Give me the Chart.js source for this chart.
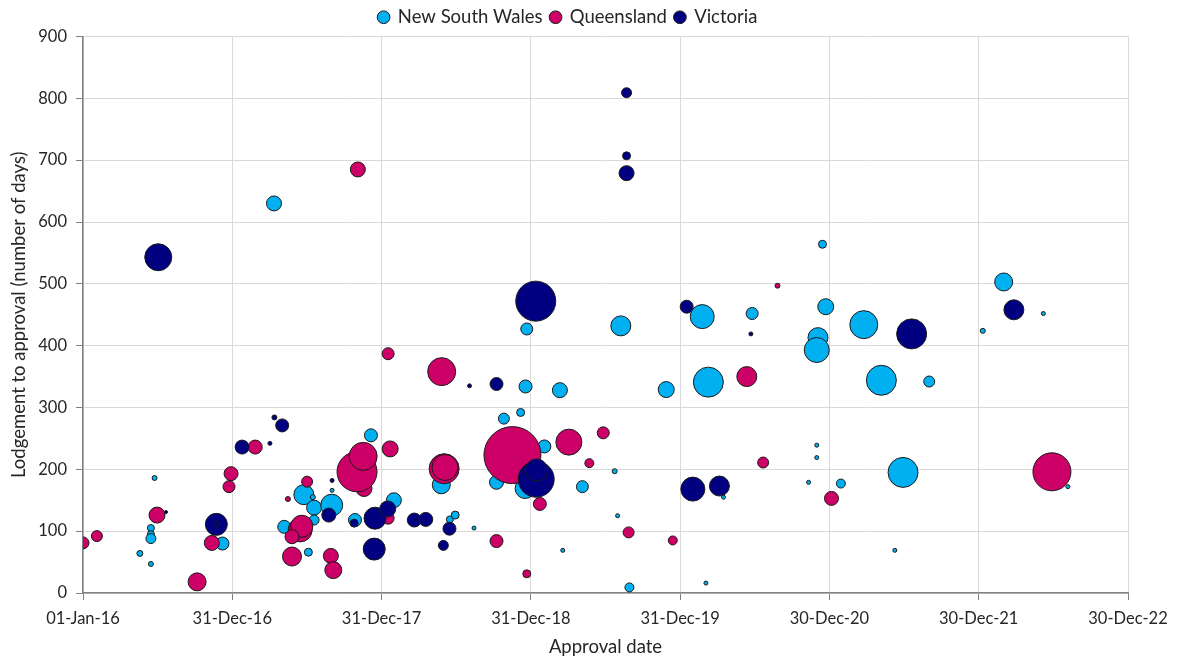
<!DOCTYPE html>
<html>
<head>
<meta charset="utf-8">
<title>Lodgement to approval by state</title>
<script src="https://cdn.jsdelivr.net/npm/chart.js@4.4.1/dist/chart.umd.min.js"></script>
<style>
  html, body { margin: 0; padding: 0; background: #ffffff; }
  #wrap { width: 1181px; height: 661px; }
</style>
</head>
<body>
<div id="wrap"><canvas id="my-chart" width="1181" height="661"></canvas></div>
<script>
'use strict';

// ************* Data (approval dates are Excel serial numbers) **************
let xTicks = [42370, 42735, 43100, 43465, 43830, 44195, 44560, 44925];
let yTicks = [0, 100, 200, 300, 400, 500, 600, 700, 800, 900];

let nswDate = [42837, 42545, 42536, 42536, 42536, 42509, 42536, 42711, 42910, 42932,
  42935, 42978, 42979, 42935, 42862, 42921, 43035, 43074, 43130, 43246,
  43267, 43280, 43326, 43381, 43399, 43440, 43452, 43455, 43536, 43451,
  43498, 43591, 43543, 43670, 43677, 43706, 43685, 43796, 43884, 43899,
  43893, 43936, 44006, 44144, 44164, 44164, 44178, 44186, 44167, 44164,
  44223, 44279, 44322, 44439, 44375, 44355, 44570, 44621, 44718, 44778];
let nswDays = [630, 186, 105, 95, 88, 64, 47, 80, 159, 155,
  138, 142, 166, 118, 107, 66, 118, 255, 150, 175,
  119, 126, 105, 179, 282, 292, 334, 427, 328, 169,
  237, 172, 69, 197, 125, 9, 432, 329, 447, 341,
  16, 155, 452, 179, 239, 219, 564, 463, 413, 393,
  177, 434, 344, 342, 195, 69, 424, 503, 452, 172];
let nswSize = [7.5, 2.5, 3.5, 3.5, 5, 3, 2.5, 6.5, 10, 2.5,
  7.5, 11, 2, 5, 6.5, 4, 6.5, 6.5, 7.5, 9,
  3.5, 4, 2, 7, 5.5, 4, 6.5, 6, 7.5, 10,
  6.5, 6, 2, 2.5, 2, 4.5, 10, 8, 12, 15,
  2, 2, 6, 2, 2, 2, 4, 8, 10, 12.5,
  4.5, 14, 15, 5.5, 15, 2, 2.5, 9, 2, 2];

let qldDate = [42370, 42404, 42551, 42649, 42685, 42732, 42727, 42791, 42871, 42918,
  42901, 42905, 42881, 42881, 42976, 42982, 43042, 43057, 43040, 43055,
  43121, 43116, 43116, 43247, 43253, 43255, 43381, 43420, 43455, 43487,
  43558, 43608, 43642, 43704, 43812, 43993, 44033, 44068, 44200, 44739];
let qldDays = [81, 92, 126, 18, 81, 193, 172, 236, 152, 180,
  102, 108, 91, 59, 60, 37, 685, 169, 196, 221,
  233, 121, 387, 358, 201, 203, 84, 223, 31, 144,
  244, 210, 259, 98, 85, 350, 211, 497, 153, 196];
let qldSize = [6, 5.5, 8, 9, 7.5, 7, 6, 7, 2.5, 5.5,
  12, 11, 7, 9.5, 7.5, 8.5, 7.5, 8, 20, 14,
  8, 6, 6, 14, 15, 13, 6.5, 28.5, 4, 6.5,
  13, 4.5, 6, 5.5, 4.5, 10, 5.5, 2.5, 7, 19];

let vicDate = [42554, 42573, 42696, 42696, 42759, 42827, 42838, 42857, 42971, 42979,
  43033, 43084, 43082, 43115, 43180, 43208, 43266, 43251, 43315, 43381,
  43477, 43478, 43479, 43699, 43699, 43699, 43846, 43861, 43926, 44003,
  44396, 44646];
let vicDays = [543, 131, 111, 111, 236, 242, 284, 271, 126, 182,
  113, 121, 71, 136, 118, 119, 104, 77, 335, 338,
  472, 184, 199, 809, 707, 679, 463, 168, 173, 419,
  419, 458];
let vicSize = [13.5, 1.5, 11, 3, 7, 2, 2.5, 6.5, 7, 2,
  4, 11, 11, 8, 7, 7, 6.5, 5, 2, 6.5,
  20, 18, 11, 5, 4, 7.5, 6.5, 12, 10, 2,
  15, 10];


// ************** Helper Functions *************
const MONTHS = ['Jan', 'Feb', 'Mar', 'Apr', 'May', 'Jun', 'Jul', 'Aug', 'Sep', 'Oct', 'Nov', 'Dec'];

function serialToLabel(serial){
  let d = new Date(Date.UTC(1899, 11, 30) + serial * 86400000);
  let dd = String(d.getUTCDate()).padStart(2, '0');
  return `${dd}-${MONTHS[d.getUTCMonth()]}-${String(d.getUTCFullYear()).slice(2)}`;
}

function makePoints(dates, days, sizes){
  let points = [];
  for(let i = 0; i < dates.length; i++){
    points.push({ x: dates[i], y: days[i], r: sizes[i] });
  }
  return points;
}

// order: Victoria painted last so it sits on top, like the spreadsheet
function makeSeries(label, points, colour, order){
  return {
    label: label,
    data: points,
    backgroundColor: colour,
    borderColor: '#1a1a1a',
    borderWidth: 1,
    hoverRadius: 0,
    order: order
  };
}


// ***************** Chart *********************
let canvasElem = document.getElementById('my-chart');
let fontFamily = 'Lato, "Open Sans", sans-serif';
let tickFont = { family: fontFamily, size: 16.5 };
let titleFont = { family: fontFamily, size: 18.5 };
let textColour = '#262626';
let gridColour = '#d9d9d9';
let axisColour = '#808080';

new Chart(canvasElem, {
  type: 'bubble',
  data: {
    datasets: [
      makeSeries('New South Wales', makePoints(nswDate, nswDays, nswSize), '#00b0f0', 3),
      makeSeries('Queensland', makePoints(qldDate, qldDays, qldSize), '#cc0066', 2),
      makeSeries('Victoria', makePoints(vicDate, vicDays, vicSize), '#000080', 1)
    ]
  },
  options: {
    responsive: false,
    animation: false,
    devicePixelRatio: 1,
    layout: { padding: { top: 0, right: 53, left: 8, bottom: 0 } },
    plugins: {
      legend: {
        position: 'top',
        labels: {
          usePointStyle: true,
          pointStyle: 'circle',
          boxWidth: 10,
          boxHeight: 9,
          padding: 8,
          color: textColour,
          font: titleFont,
          sort: (a, b) => a.datasetIndex - b.datasetIndex
        }
      },
      tooltip: { enabled: false }
    },
    scales: {
      x: {
        type: 'linear',
        min: xTicks[0],
        max: xTicks[xTicks.length - 1],
        afterBuildTicks: axis => {
          axis.ticks = xTicks.map(v => ({ value: v }));
        },
        afterFit: axis => {
          axis.height = 68;
        },
        ticks: {
          callback: value => serialToLabel(value),
          autoSkip: false,
          maxRotation: 0,
          color: textColour,
          font: tickFont,
          padding: 9
        },
        grid: { color: gridColour, tickColor: axisColour, tickLength: 7 },
        border: { color: axisColour, width: 1.5 },
        title: {
          display: true,
          text: 'Approval date',
          color: textColour,
          font: titleFont,
          padding: { top: 4, bottom: 3 }
        }
      },
      y: {
        min: yTicks[0],
        max: yTicks[yTicks.length - 1],
        afterBuildTicks: axis => {
          axis.ticks = yTicks.map(v => ({ value: v }));
        },
        afterFit: axis => {
          axis.width = 75;
        },
        ticks: {
          color: textColour,
          font: tickFont,
          padding: 9
        },
        grid: { color: gridColour, tickColor: axisColour, tickLength: 7 },
        border: { color: axisColour, width: 1.5 },
        title: {
          display: true,
          text: 'Lodgement to approval (number of days)',
          color: textColour,
          font: titleFont,
          padding: { top: 0, bottom: 2 }
        }
      }
    }
  }
});
</script>
</body>
</html>
